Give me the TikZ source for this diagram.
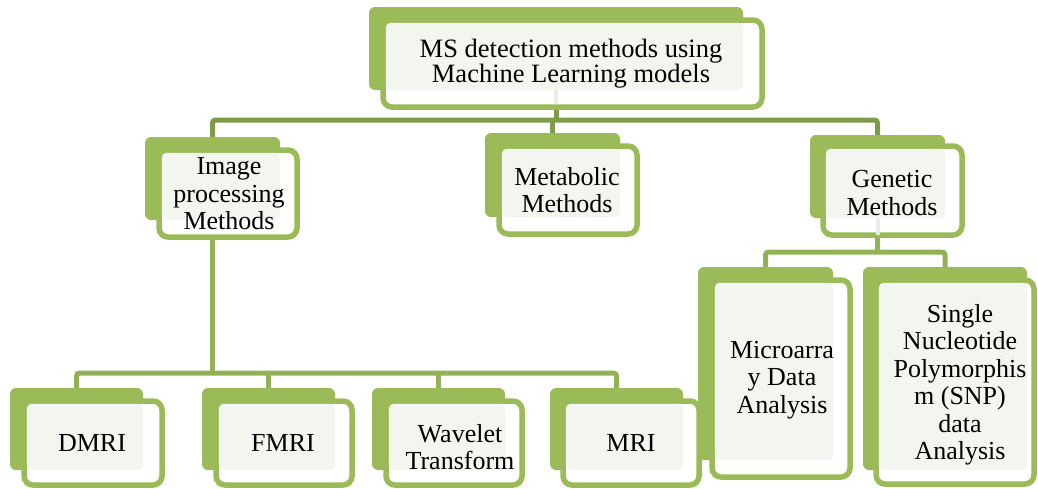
\documentclass[tikz,border=0pt]{standalone}
\usepackage{fontspec}
\setmainfont{Liberation Serif}
\usetikzlibrary{calc}
\definecolor{gA}{HTML}{9BBB59}
\definecolor{gD}{HTML}{7F9A48}
\definecolor{gL}{HTML}{93B255}
\definecolor{tint}{HTML}{F3F6EE}
\tikzset{
  backbox/.style={fill=gA, rounded corners=6pt, inner sep=0pt, outer sep=0pt, draw=none, anchor=north west},
  frontbox/.style={draw=gA, line width=5.5pt, fill=white, rounded corners=9pt, inner sep=0pt, outer sep=0pt, anchor=north west},
  busD/.style={draw=gD, line width=5pt, rounded corners=3pt},
  busL/.style={draw=gL, line width=5pt, rounded corners=3pt},
  stub/.style={draw=black!8, line width=4pt},
  lbl/.style={align=center, inner sep=0pt, font=\fontsize{26}{27.5}\selectfont},
}
\newcommand\gbox[9]{%
  \node[backbox, minimum width=#4pt, minimum height=#5pt] (#1b) at (#2,#3) {};
  \node[frontbox, minimum width=#8pt, minimum height=#9pt] (#1f) at (#6,#7) {};
  \fill[tint, rounded corners=5pt] ($(#1f.north west)+(2.75,2.75)$) rectangle (#1b.south east);
}
\begin{document}
\begin{tikzpicture}[x=1pt,y=-1pt]
\useasboundingbox (0,0) rectangle (1038,488);
% bus reference points
\coordinate (j1) at (0,120);
\coordinate (j2) at (0,373);
\coordinate (j3) at (0,252);
% boxes are drawn after the connectors
\begin{scope}[on background layer/.try]
\end{scope}
% connectors (placed first so boxes cover their ends)
\node[backbox, minimum width=374pt, minimum height=83pt, draw=none, fill=none] (topb) at (369,7) {};
\node[backbox, minimum width=135pt, minimum height=83pt, fill=none] (imgb) at (145,137) {};
\node[backbox, minimum width=135pt, minimum height=84pt, fill=none] (metb) at (485,133) {};
\node[backbox, minimum width=135pt, minimum height=83pt, fill=none] (genb) at (810,135) {};
\node[backbox, minimum width=133pt, minimum height=82pt, fill=none] (dmrib) at (10,388) {};
\node[backbox, minimum width=133pt, minimum height=82pt, fill=none] (fmrib) at (202,388) {};
\node[backbox, minimum width=133pt, minimum height=82pt, fill=none] (wavb) at (372,388) {};
\node[backbox, minimum width=133pt, minimum height=82pt, fill=none] (mrib) at (550,388) {};
\node[backbox, minimum width=135pt, minimum height=193pt, fill=none] (micb) at (698,267) {};
\node[backbox, minimum width=164pt, minimum height=203pt, fill=none] (snpb) at (863,267) {};

\draw[busD] (imgb.north) -- (imgb.north |- j1) -- (genb.north |- j1) -- (genb.north);
\draw[busD, rounded corners=0pt] (topb.south) -- (topb.south |- j1);
\draw[busD, rounded corners=0pt] (metb.north |- j1) -- (metb.north);
\draw[busL, rounded corners=0pt] (imgb.south) -- (imgb.south |- j2);
\draw[busL] (dmrib.north) -- (dmrib.north |- j2) -- (mrib.north |- j2) -- (mrib.north);
\draw[busL, rounded corners=0pt] (fmrib.north |- j2) -- (fmrib.north);
\draw[busL, rounded corners=0pt] (wavb.north |- j2) -- (wavb.north);
\draw[busL, rounded corners=0pt] (genb.south) -- (genb.south |- j3);
\draw[busL] (micb.north) -- (micb.north |- j3) -- (snpb.north |- j3) -- (snpb.north);

% boxes
\gbox{top}{369}{7}{374}{83}{383}{20}{379}{87}
\gbox{img}{145}{137}{135}{83}{159}{150}{138}{87}
\gbox{met}{485}{133}{135}{84}{499}{146}{138}{88}
\gbox{gen}{810}{135}{135}{83}{823}{146}{139}{89}
\gbox{mic}{698}{267}{135}{193}{712}{280}{138}{197}
\gbox{snp}{863}{267}{164}{203}{876}{280}{158}{204}
\gbox{dmri}{10}{388}{133}{82}{24}{401}{138}{84}
\gbox{fmri}{202}{388}{133}{82}{216}{401}{136}{84}
\gbox{wav}{372}{388}{133}{82}{386}{401}{136}{84}
\gbox{mri}{550}{388}{133}{82}{563}{401}{136}{84}

% faint stubs under the front boxes
\draw[stub] (topb.south) -- ++(0,14);
\draw[stub] (genb.south) -- ++(0,17);

% labels
\node[lbl, font=\fontsize{26.5}{25}\selectfont] (t0) at (571,64) {MS detection methods using\\Machine Learning models};
\node[lbl] (t1) at (229,194) {Image\\processing\\Methods};
\node[lbl] (t2) at (567,190) {Metabolic\\Methods};
\node[lbl] (t3) at (892,193) {Genetic\\Methods};
\node[lbl] (t4) at (92,443) {DMRI};
\node[lbl] (t5) at (283,443) {FMRI};
\node[lbl] (t6) at (460,447) {Wavelet\\Transform};
\node[lbl] (t7) at (631,443) {MRI};
\node[lbl] (t8) at (782,380) {Microarra\\y Data\\Analysis};
\node[lbl] (t9) at (960,385) {Single\\Nucleotide\\Polymorphis\\m (SNP)\\data\\Analysis};
\end{tikzpicture}
\end{document}
